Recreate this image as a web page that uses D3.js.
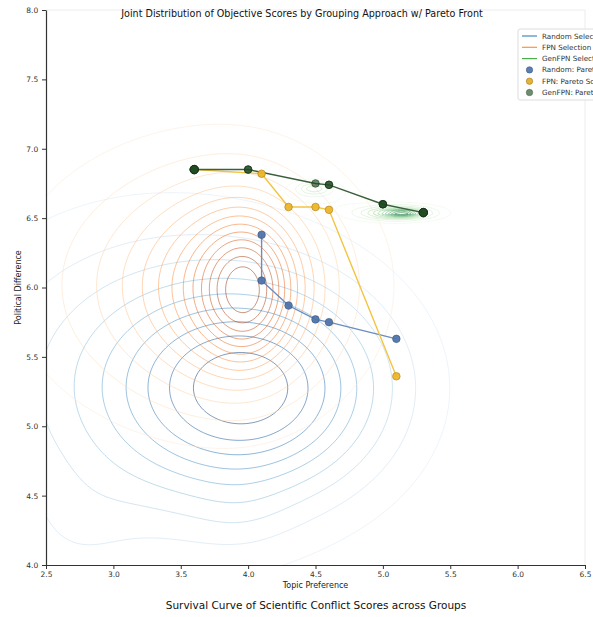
<!DOCTYPE html>
<html>
<head>
<meta charset="utf-8">
<script src="https://cdn.jsdelivr.net/npm/d3@7"></script>
<style>
  body { margin: 0; background: #fff; }
  svg { display: block; font-family: "DejaVu Sans", sans-serif; }
</style>
</head>
<body>
<div id="chart"></div>
<script>
// pareto fronts
const randomX = [4.1, 4.1, 4.3, 4.5, 4.6, 5.1];
const randomY = [6.38, 6.05, 5.87, 5.77, 5.75, 5.63];
const fpnX = [3.6, 4.1, 4.3, 4.5, 4.6, 5.1];
const fpnY = [6.85, 6.82, 6.58, 6.58, 6.56, 5.36];
const genX = [3.6, 4.0, 4.5, 4.6, 5.0, 5.3];
const genY = [6.85, 6.85, 6.75, 6.74, 6.6, 6.54];
const genRepeats = [4, 2, 1, 2, 3, 4]; // overlapping runs -> darker dots

// shape of each score cloud, estimated: [cx, cy, sx, sy, peak]
const randomKde = [
  [4.08, 5.27, 0.65, 0.5, 1.0],
  [3.3, 5.3, 1.0, 0.82, 0.55],
  [2.7, 4.2, 0.3, 0.3, 0.1],
  [3.95, 4.35, 0.25, 0.2, 0.06]
];
const fpnKde = [
  [3.99, 5.97, 0.2, 0.32, 1.0],
  [3.97, 5.98, 0.33, 0.42, 1.0],
  [3.88, 6.0, 0.5, 0.5, 1.0],
  [3.6, 6.02, 0.85, 0.65, 1.0]
];
const genKde = [
  [5.15, 6.535, 0.08, 0.015, 1.0],
  [5.12, 6.535, 0.15, 0.028, 1.0],
  [5.08, 6.54, 0.25, 0.045, 0.8],
  [4.49, 6.715, 0.08, 0.03, 0.7],
  [4.5, 6.69, 0.2, 0.07, 0.4]
];
const levelCounts = { random: 9, fpn: 13, gen: 11 };

const xTicks = [2.5, 3.0, 3.5, 4.0, 4.5, 5.0, 5.5, 6.0, 6.5];
const yTicks = [4.0, 4.5, 5.0, 5.5, 6.0, 6.5, 7.0, 7.5, 8.0];
const legendLabels = ["Random Selection", "FPN Selection", "GenFPN Selection",
  "Random: Pareto Scores", "FPN: Pareto Scores", "GenFPN: Pareto Scores"];

const W = 593, H = 617;
const m = { left: 46, right: 585, top: 10, bottom: 565 };

const svg = d3.select("#chart").append("svg")
  .attr("width", W)
  .attr("height", H);

const x = d3.scaleLinear().domain([2.5, 6.5]).range([m.left, m.right]);
const y = d3.scaleLinear().domain([4, 8]).range([m.bottom, m.top]);

svg.append("clipPath").attr("id", "plotclip")
  .append("rect")
  .attr("x", m.left).attr("y", m.top)
  .attr("width", m.right - m.left).attr("height", m.bottom - m.top);

// faint top / right frame
svg.append("line").attr("x1", m.left).attr("x2", m.right).attr("y1", m.top).attr("y2", m.top)
  .attr("stroke", "#ececec");
svg.append("line").attr("x1", m.right).attr("x2", m.right).attr("y1", m.top).attr("y2", m.bottom)
  .attr("stroke", "#ececec");

// density grid -> contour lines
const gx0 = 1.5, gx1 = 7.5, gy0 = 3.0, gy1 = 8.5, nx = 300, ny = 275;
function densityGrid(comps) {
  let vals = new Float64Array(nx * ny);
  for (let j = 0; j < ny; j++) {
    let gy = gy0 + (j + 0.5) * (gy1 - gy0) / ny;
    for (let i = 0; i < nx; i++) {
      let gx = gx0 + (i + 0.5) * (gx1 - gx0) / nx;
      let s = 0;
      comps.forEach(function (c) {
        let dx = (gx - c[0]) / c[2], dy = (gy - c[1]) / c[3];
        s += c[4] * Math.exp(-0.5 * (dx * dx + dy * dy));
      });
      vals[j * nx + i] = s;
    }
  }
  return vals;
}

const gridProj = d3.geoTransform({
  point: function (px, py) {
    this.stream.point(
      x(gx0 + px * (gx1 - gx0) / nx),
      y(gy0 + py * (gy1 - gy0) / ny));
  }
});
const gridPath = d3.geoPath(gridProj);

const kdeLayer = svg.append("g").attr("clip-path", "url(#plotclip)");

function drawKde(comps, n, interp, t0, t1, opacity) {
  let vals = densityGrid(comps);
  let max = d3.max(vals);
  let levels = d3.range(1, n + 1).map(function (k) { return k / (n + 1) * max; });
  let conts = d3.contours().size([nx, ny]).thresholds(levels)(vals);
  kdeLayer.append("g").selectAll("path").data(conts).enter().append("path")
    .attr("d", gridPath)
    .attr("fill", "none")
    .attr("stroke", function (d, i) { return interp(t0 + (t1 - t0) * i / (n - 1)); })
    .attr("stroke-opacity", opacity)
    .attr("stroke-width", 1);
}

drawKde(randomKde, levelCounts.random, d3.interpolateBlues, 0.14, 0.98, 0.5);
drawKde(fpnKde, levelCounts.fpn, d3.interpolateOranges, 0.1, 0.95, 0.5);
drawKde(genKde, levelCounts.gen, d3.interpolateGreens, 0.1, 0.9, 0.45);

// pareto lines + dots
const fronts = [
  { xs: randomX, ys: randomY, line: "#6b8dbf", fill: "#4f74ab", edge: "#34507a", op: 0.95, reps: null },
  { xs: fpnX, ys: fpnY, line: "#f4c441", fill: "#eeb628", edge: "#a27512", op: 0.95, reps: null },
  { xs: genX, ys: genY, line: "#3a603a", fill: "#1f4a22", edge: "#142e16", op: 0.65, reps: genRepeats }
];

const lineGen = d3.line().x(function (d) { return x(d[0]); }).y(function (d) { return y(d[1]); });

fronts.forEach(function (f) {
  let pts = f.xs.map(function (v, i) { return [v, f.ys[i]]; });
  svg.append("path").datum(pts)
    .attr("d", lineGen)
    .attr("fill", "none")
    .attr("stroke", f.line)
    .attr("stroke-width", 1.4);
});

fronts.forEach(function (f) {
  let pts = [];
  f.xs.forEach(function (v, i) {
    let r = f.reps ? f.reps[i] : 1;
    for (let k = 0; k < r; k++) pts.push([v, f.ys[i], r]);
  });
  svg.append("g").selectAll("circle").data(pts).enter().append("circle")
    .attr("cx", function (d) { return x(d[0]); })
    .attr("cy", function (d) { return y(d[1]); })
    .attr("r", function (d) { return d[2] >= 4 ? 4.2 : 3.8; })
    .attr("fill", f.fill)
    .attr("fill-opacity", f.op)
    .attr("stroke", f.edge)
    .attr("stroke-opacity", 0.7)
    .attr("stroke-width", 0.8);
});

// axes
const xAxis = d3.axisBottom(x).tickValues(xTicks).tickFormat(d3.format(".1f")).tickSize(4).tickSizeOuter(0);
const yAxis = d3.axisLeft(y).tickValues(yTicks).tickFormat(d3.format(".1f")).tickSize(4).tickSizeOuter(0);

const gx = svg.append("g").attr("transform", "translate(0," + m.bottom + ")").call(xAxis);
const gy = svg.append("g").attr("transform", "translate(" + m.left + ",0)").call(yAxis);
[gx, gy].forEach(function (g) {
  g.select(".domain").attr("stroke", "#333").attr("stroke-width", 1.2);
  g.selectAll(".tick line").attr("stroke", "#333");
  g.selectAll(".tick text").attr("fill", "#333").attr("font-size", 7.5)
    .attr("font-family", "DejaVu Sans, sans-serif");
});
gx.selectAll(".tick text").attr("dy", "0.6em");
gy.selectAll(".tick text").attr("dx", "-0.1em");

svg.append("text")
  .attr("x", (m.left + m.right) / 2).attr("y", 588)
  .attr("text-anchor", "middle")
  .attr("font-size", 8).attr("fill", "#222")
  .text("Topic Preference");

svg.append("text")
  .attr("transform", "translate(21," + ((m.top + m.bottom) / 2) + ") rotate(-90)")
  .attr("text-anchor", "middle")
  .attr("font-size", 8).attr("fill", "#222")
  .text("Political Difference");

svg.append("text")
  .attr("x", 302).attr("y", 17)
  .attr("text-anchor", "middle")
  .attr("font-size", 9.6).attr("fill", "#111")
  .text("Joint Distribution of Objective Scores by Grouping Approach w/ Pareto Front");

svg.append("text")
  .attr("x", 316).attr("y", 609)
  .attr("text-anchor", "middle")
  .attr("font-size", 10.5).attr("fill", "#111")
  .text("Survival Curve of Scientific Conflict Scores across Groups");

// legend (runs past the right edge, as in the original)
const leg = svg.append("g").attr("transform", "translate(518,29)");
leg.append("rect")
  .attr("width", 100).attr("height", 71).attr("rx", 2)
  .attr("fill", "#fff").attr("fill-opacity", 0.85)
  .attr("stroke", "#ddd");

const legLine = ["#1f77b4", "#ff7f0e", "#2ca02c"];
const legDot = ["#5a7db3", "#e3b33a", "#6e8c70"];
const legDotEdge = ["#40608e", "#a67b1a", "#4a664c"];
legendLabels.forEach(function (lab, i) {
  let ly = 7 + i * 11.3;
  if (i < 3) {
    leg.append("line").attr("x1", 4).attr("x2", 19).attr("y1", ly).attr("y2", ly)
      .attr("stroke", legLine[i]).attr("stroke-width", 1.2).attr("stroke-opacity", 0.85);
  } else {
    leg.append("circle").attr("cx", 11.5).attr("cy", ly).attr("r", 3.2)
      .attr("fill", legDot[i - 3]).attr("stroke", legDotEdge[i - 3]).attr("stroke-width", 0.6);
  }
  leg.append("text").attr("x", 24).attr("y", ly).attr("dy", "0.35em")
    .attr("font-size", 7.2).attr("fill", "#333").text(lab);
});
</script>
</body>
</html>
